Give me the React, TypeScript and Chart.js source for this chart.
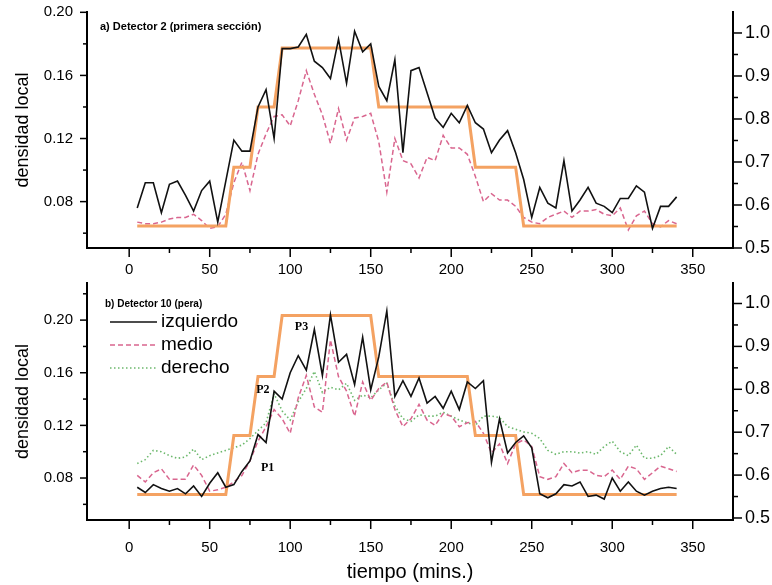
import React, { useEffect, useRef } from "react";
import { Chart, registerables } from "chart.js";

Chart.register(...registerables);

// ---------------- DATA ----------------
const TIMES = [5, 10, 15, 20, 25, 30, 35, 40, 45, 50, 55, 60, 65, 70, 75, 80, 85, 90, 95, 100,
  105, 110, 115, 120, 125, 130, 135, 140, 145, 150, 155, 160, 165, 170, 175, 180, 185, 190, 195, 200,
  205, 210, 215, 220, 225, 230, 235, 240, 245, 250, 255, 260, 265, 270, 275, 280, 285, 290, 295, 300,
  305, 310, 315, 320, 325, 330, 335, 340];

// a) Detector 2 (primera sección)
const MODEL_A = [
  0.551, 0.551, 0.551, 0.551, 0.551, 0.551, 0.551, 0.551, 0.551, 0.551, 0.551, 0.551,
  0.688, 0.688, 0.688,
  0.828, 0.828, 0.828,
  0.965, 0.965, 0.965, 0.965, 0.965, 0.965, 0.965, 0.965, 0.965, 0.965, 0.965, 0.965,
  0.828, 0.828, 0.828, 0.828, 0.828, 0.828, 0.828, 0.828, 0.828, 0.828, 0.828, 0.828,
  0.688, 0.688, 0.688, 0.688, 0.688, 0.688,
  0.551, 0.551, 0.551, 0.551, 0.551, 0.551, 0.551, 0.551, 0.551, 0.551, 0.551, 0.551,
  0.551, 0.551, 0.551, 0.551, 0.551, 0.551, 0.551, 0.551];
const IZQ_A = [
  0.076, 0.092, 0.092, 0.073, 0.091, 0.093, 0.084, 0.074, 0.087, 0.093,
  0.067, 0.093, 0.119, 0.112, 0.112, 0.140, 0.151, 0.120, 0.177, 0.177,
  0.178, 0.186, 0.169, 0.165, 0.158, 0.183, 0.155, 0.188, 0.175, 0.180,
  0.153, 0.144, 0.170, 0.111, 0.163, 0.165, 0.149, 0.133, 0.127, 0.136,
  0.130, 0.141, 0.130, 0.126, 0.111, 0.119, 0.125, 0.111, 0.094, 0.070,
  0.089, 0.079, 0.076, 0.106, 0.074, 0.081, 0.089, 0.079, 0.077, 0.073,
  0.082, 0.082, 0.090, 0.086, 0.063, 0.077, 0.077, 0.083];
const MED_A = [
  0.067, 0.066, 0.066, 0.067, 0.069, 0.070, 0.070, 0.072, 0.068, 0.063,
  0.064, 0.072, 0.092, 0.105, 0.087, 0.110, 0.123, 0.134, 0.135, 0.128,
  0.144, 0.163, 0.148, 0.135, 0.117, 0.139, 0.119, 0.133, 0.134, 0.136,
  0.118, 0.086, 0.120, 0.106, 0.104, 0.095, 0.108, 0.106, 0.122, 0.114,
  0.114, 0.110, 0.096, 0.080, 0.085, 0.081, 0.081, 0.077, 0.070, 0.067,
  0.066, 0.070, 0.072, 0.074, 0.070, 0.074, 0.074, 0.075, 0.072, 0.071,
  0.076, 0.062, 0.071, 0.074, 0.066, 0.064, 0.068, 0.066];

// b) Detector 10 (pera)
const MODEL_B = [
  0.555, 0.555, 0.555, 0.555, 0.555, 0.555, 0.555, 0.555, 0.555, 0.555, 0.555, 0.555,
  0.692, 0.692, 0.692,
  0.830, 0.830, 0.830,
  0.972, 0.972, 0.972, 0.972, 0.972, 0.972, 0.972, 0.972, 0.972, 0.972, 0.972, 0.972,
  0.830, 0.830, 0.830, 0.830, 0.830, 0.830, 0.830, 0.830, 0.830, 0.830, 0.830, 0.830,
  0.692, 0.692, 0.692, 0.692, 0.692, 0.692,
  0.555, 0.555, 0.555, 0.555, 0.555, 0.555, 0.555, 0.555, 0.555, 0.555, 0.555, 0.555,
  0.555, 0.555, 0.555, 0.555, 0.555, 0.555, 0.555, 0.555];
const IZQ_B = [
  0.073, 0.069, 0.075, 0.072, 0.070, 0.072, 0.068, 0.074, 0.066, 0.076,
  0.084, 0.073, 0.075, 0.085, 0.093, 0.113, 0.107, 0.146, 0.140, 0.160,
  0.173, 0.162, 0.193, 0.158, 0.204, 0.168, 0.174, 0.151, 0.187, 0.147,
  0.172, 0.207, 0.142, 0.154, 0.142, 0.156, 0.137, 0.142, 0.133, 0.146,
  0.132, 0.153, 0.148, 0.154, 0.092, 0.125, 0.099, 0.107, 0.112, 0.103,
  0.068, 0.065, 0.068, 0.075, 0.074, 0.077, 0.066, 0.067, 0.064, 0.080,
  0.070, 0.077, 0.070, 0.067, 0.070, 0.072, 0.073, 0.072];
const MED_B = [
  0.082, 0.077, 0.084, 0.087, 0.079, 0.079, 0.079, 0.090, 0.082, 0.070,
  0.071, 0.073, 0.077, 0.082, 0.093, 0.108, 0.119, 0.132, 0.125, 0.114,
  0.141, 0.158, 0.134, 0.130, 0.185, 0.157, 0.146, 0.127, 0.153, 0.139,
  0.148, 0.153, 0.132, 0.119, 0.125, 0.136, 0.124, 0.120, 0.129, 0.127,
  0.119, 0.122, 0.123, 0.114, 0.099, 0.106, 0.091, 0.106, 0.109, 0.104,
  0.081, 0.079, 0.081, 0.091, 0.084, 0.086, 0.086, 0.082, 0.081, 0.086,
  0.079, 0.089, 0.087, 0.079, 0.084, 0.089, 0.087, 0.085];
const DER_B = [
  0.091, 0.094, 0.101, 0.100, 0.097, 0.095, 0.096, 0.102, 0.094, 0.097,
  0.099, 0.101, 0.103, 0.105, 0.110, 0.116, 0.122, 0.144, 0.131, 0.124,
  0.138, 0.148, 0.161, 0.145, 0.149, 0.147, 0.152, 0.139, 0.143, 0.141,
  0.147, 0.152, 0.135, 0.125, 0.123, 0.128, 0.127, 0.127, 0.130, 0.127,
  0.124, 0.122, 0.120, 0.127, 0.127, 0.126, 0.119, 0.117, 0.115, 0.114,
  0.110, 0.101, 0.098, 0.100, 0.100, 0.099, 0.100, 0.098, 0.104, 0.108,
  0.100, 0.097, 0.105, 0.095, 0.095, 0.097, 0.104, 0.098];

// Ticks
const X_TICKS = [0, 25, 50, 75, 100, 125, 150, 175, 200, 225, 250, 275, 300, 325, 350];
const X_LABELS = [0, 50, 100, 150, 200, 250, 300, 350];
const LEFT_TICKS_A = [0.06, 0.08, 0.10, 0.12, 0.14, 0.16, 0.18, 0.20];
const LEFT_TICKS_B = [0.06, 0.08, 0.10, 0.12, 0.14, 0.16, 0.18, 0.20, 0.22];
const LEFT_LABELS = [0.08, 0.12, 0.16, 0.20];
const RIGHT_TICKS = [0.5, 0.55, 0.6, 0.65, 0.7, 0.75, 0.8, 0.85, 0.9, 0.95, 1.0];
const RIGHT_LABELS = [0.5, 0.6, 0.7, 0.8, 0.9, 1.0];

// Texts
const TITLE_A = "a) Detector 2 (primera sección)";
const TITLE_B = "b) Detector 10 (pera)";
const SERIES_NAMES = ["izquierdo", "medio", "derecho"];
const PEAK_NAMES = ["P1", "P2", "P3"];
const PEAK_T = [86, 83, 107];
const PEAK_V = [0.0876, 0.1469, 0.1948];

// ---------------- STYLE ----------------
const FONT = '"Liberation Sans", Arial, Helvetica, sans-serif';
const SERIF = '"Liberation Serif", "Times New Roman", serif';
const STY = {
  izq: { color: "#111111", width: 1.6, dash: [] as number[] },
  med: { color: "#d9668f", width: 1.5, dash: [5, 3] },
  der: { color: "#6cb86c", width: 1.6, dash: [1.5, 2.5] },
  model: { color: "#f4a262", width: 3, dash: [] as number[] },
};

const isIn = (list: number[], v: number) => list.some((u) => Math.abs(u - v) < 1e-6);

function ds(label: string, data: number[], st: any, axis: string, order: number) {
  return {
    label,
    data: TIMES.map((t, i) => ({ x: t, y: data[i] })),
    borderColor: st.color,
    backgroundColor: st.color,
    borderWidth: st.width,
    borderDash: st.dash,
    pointRadius: 0,
    pointHoverRadius: 0,
    tension: 0,
    fill: false,
    yAxisID: axis,
    order,
  };
}

const tickPlugin = {
  id: "axisTicks",
  afterDraw(chart: any) {
    const { ctx, chartArea: a } = chart;
    const line = (x1: number, y1: number, x2: number, y2: number) => {
      ctx.beginPath();
      ctx.moveTo(x1, y1);
      ctx.lineTo(x2, y2);
      ctx.stroke();
    };
    ctx.save();
    ctx.strokeStyle = "#000";
    ctx.lineWidth = 1.5;
    const sx = chart.scales.x;
    for (const t of sx.ticks) {
      const px = sx.getPixelForValue(t.value);
      line(px, a.bottom, px, a.bottom + (isIn(X_LABELS, t.value) ? 9 : 5));
    }
    const sy = chart.scales.y;
    for (const t of sy.ticks) {
      const py = sy.getPixelForValue(t.value);
      line(a.left, py, a.left - (isIn(LEFT_LABELS, t.value) ? 7 : 4), py);
    }
    const sr = chart.scales.y1;
    for (const t of sr.ticks) {
      const py = sr.getPixelForValue(t.value);
      line(a.right, py, a.right + (isIn(RIGHT_LABELS, t.value) ? 9 : 5), py);
    }
    ctx.restore();
  },
};

function makeScales(p: any) {
  const border = { display: true, color: "#000", width: 2 };
  const grid = { display: false, drawTicks: false };
  return {
    x: {
      type: "linear",
      position: "bottom",
      min: -26.2,
      max: 375,
      bounds: "data",
      grid,
      border,
      afterBuildTicks: (s: any) => {
        s.ticks = X_TICKS.map((v) => ({ value: v }));
      },
      afterFit: (s: any) => {
        s.height = p.xHeight;
        s.paddingLeft = 0;
        s.paddingRight = 0;
      },
      ticks: {
        autoSkip: false,
        maxRotation: 0,
        padding: p.xPad,
        color: "#000",
        font: { family: FONT, size: 15 },
        callback: (v: number) => (isIn(X_LABELS, v) ? String(v) : ""),
      },
      title: p.xTitle
        ? { display: true, text: "tiempo (mins.)", color: "#000", font: { family: FONT, size: 20 }, padding: { top: 0, bottom: 1 } }
        : { display: false },
    },
    y: {
      type: "linear",
      position: "left",
      min: p.yMin,
      max: p.yMax,
      bounds: "data",
      grid,
      border,
      afterBuildTicks: (s: any) => {
        s.ticks = p.leftTicks.map((v: number) => ({ value: v }));
      },
      afterFit: (s: any) => {
        s.width = 87;
        s.paddingTop = 0;
        s.paddingBottom = 0;
      },
      ticks: {
        autoSkip: false,
        padding: 14,
        color: "#000",
        font: { family: FONT, size: 15 },
        callback: (v: number) => (isIn(LEFT_LABELS, v) ? v.toFixed(2) : ""),
      },
      title: { display: true, text: "densidad local", color: "#000", font: { family: FONT, size: 18 }, padding: { top: 12, bottom: 0 } },
    },
    y1: {
      type: "linear",
      position: "right",
      min: p.rMin,
      max: p.rMax,
      bounds: "data",
      grid,
      border,
      afterBuildTicks: (s: any) => {
        s.ticks = RIGHT_TICKS.map((v) => ({ value: v }));
      },
      afterFit: (s: any) => {
        s.width = 39;
        s.paddingTop = 0;
        s.paddingBottom = 0;
      },
      ticks: {
        autoSkip: false,
        padding: 12,
        color: "#000",
        font: { family: FONT, size: 18 },
        callback: (v: number) => (isIn(RIGHT_LABELS, v) ? v.toFixed(1) : ""),
      },
    },
  };
}

export default function App() {
  const refA = useRef<HTMLCanvasElement>(null);
  const refB = useRef<HTMLCanvasElement>(null);

  useEffect(() => {
    const textA = {
      id: "textA",
      afterDraw(chart: any) {
        const ctx = chart.ctx;
        ctx.save();
        ctx.fillStyle = "#000";
        ctx.font = `bold 11px ${FONT}`;
        ctx.textBaseline = "middle";
        ctx.textAlign = "left";
        ctx.fillText(TITLE_A, 100, 27);
        ctx.restore();
      },
    };
    const textB = {
      id: "textB",
      afterDraw(chart: any) {
        const ctx = chart.ctx;
        const sx = chart.scales.x;
        const sy = chart.scales.y;
        ctx.save();
        ctx.fillStyle = "#000";
        ctx.font = `bold 10px ${FONT}`;
        ctx.textBaseline = "middle";
        ctx.textAlign = "left";
        ctx.fillText(TITLE_B, 105, 26);
        // legend
        const styles = [STY.izq, STY.med, STY.der];
        const rows = [44, 67, 90];
        styles.forEach((st, i) => {
          ctx.save();
          ctx.strokeStyle = st.color;
          ctx.lineWidth = st.width;
          ctx.setLineDash(st.dash);
          ctx.beginPath();
          ctx.moveTo(110, rows[i]);
          ctx.lineTo(157, rows[i]);
          ctx.stroke();
          ctx.restore();
          ctx.font = `19px ${FONT}`;
          ctx.fillStyle = "#000";
          ctx.fillText(SERIES_NAMES[i], 161, rows[i]);
        });
        // peak labels
        ctx.font = `bold 12px ${SERIF}`;
        ctx.textAlign = "center";
        PEAK_NAMES.forEach((n, i) => {
          ctx.fillText(n, sx.getPixelForValue(PEAK_T[i]), sy.getPixelForValue(PEAK_V[i]));
        });
        ctx.restore();
      },
    };

    const common = {
      responsive: false,
      animation: false,
      events: [],
      plugins: { legend: { display: false }, tooltip: { enabled: false } },
    };

    const chartA = new Chart(refA.current as HTMLCanvasElement, {
      type: "line",
      data: {
        datasets: [
          ds("izquierdo", IZQ_A, STY.izq, "y", 0),
          ds("modelo", MODEL_A, STY.model, "y1", 1),
          ds("medio", MED_A, STY.med, "y", 2),
        ],
      },
      options: {
        ...common,
        layout: { padding: { top: 12, left: 0, right: 0, bottom: 0 } },
        scales: makeScales({
          xHeight: 30, xPad: 13, xTitle: false,
          yMin: 0.0506, yMax: 0.2002, leftTicks: LEFT_TICKS_A,
          rMin: 0.5, rMax: 1.0488,
        }),
      } as any,
      plugins: [tickPlugin, textA],
    } as any);

    const chartB = new Chart(refB.current as HTMLCanvasElement, {
      type: "line",
      data: {
        datasets: [
          ds("izquierdo", IZQ_B, STY.izq, "y", 0),
          ds("modelo", MODEL_B, STY.model, "y1", 1),
          ds("medio", MED_B, STY.med, "y", 2),
          ds("derecho", DER_B, STY.der, "y", 3),
        ],
      },
      options: {
        ...common,
        layout: { padding: { top: 5, left: 0, right: 0, bottom: 0 } },
        scales: makeScales({
          xHeight: 65, xPad: 19, xTitle: true,
          yMin: 0.0481, yMax: 0.2282, leftTicks: LEFT_TICKS_B,
          rMin: 0.4953, rMax: 1.0478,
        }),
      } as any,
      plugins: [tickPlugin, textB],
    } as any);

    return () => {
      chartA.destroy();
      chartB.destroy();
    };
  }, []);

  return (
    <div style={{ position: "absolute", left: 0, top: 0, width: 772, height: 585, background: "#fff" }}>
      <canvas ref={refA} width={772} height={278} style={{ position: "absolute", left: 0, top: 0, display: "block" }} />
      <canvas ref={refB} width={772} height={307} style={{ position: "absolute", left: 0, top: 278, display: "block" }} />
    </div>
  );
}
